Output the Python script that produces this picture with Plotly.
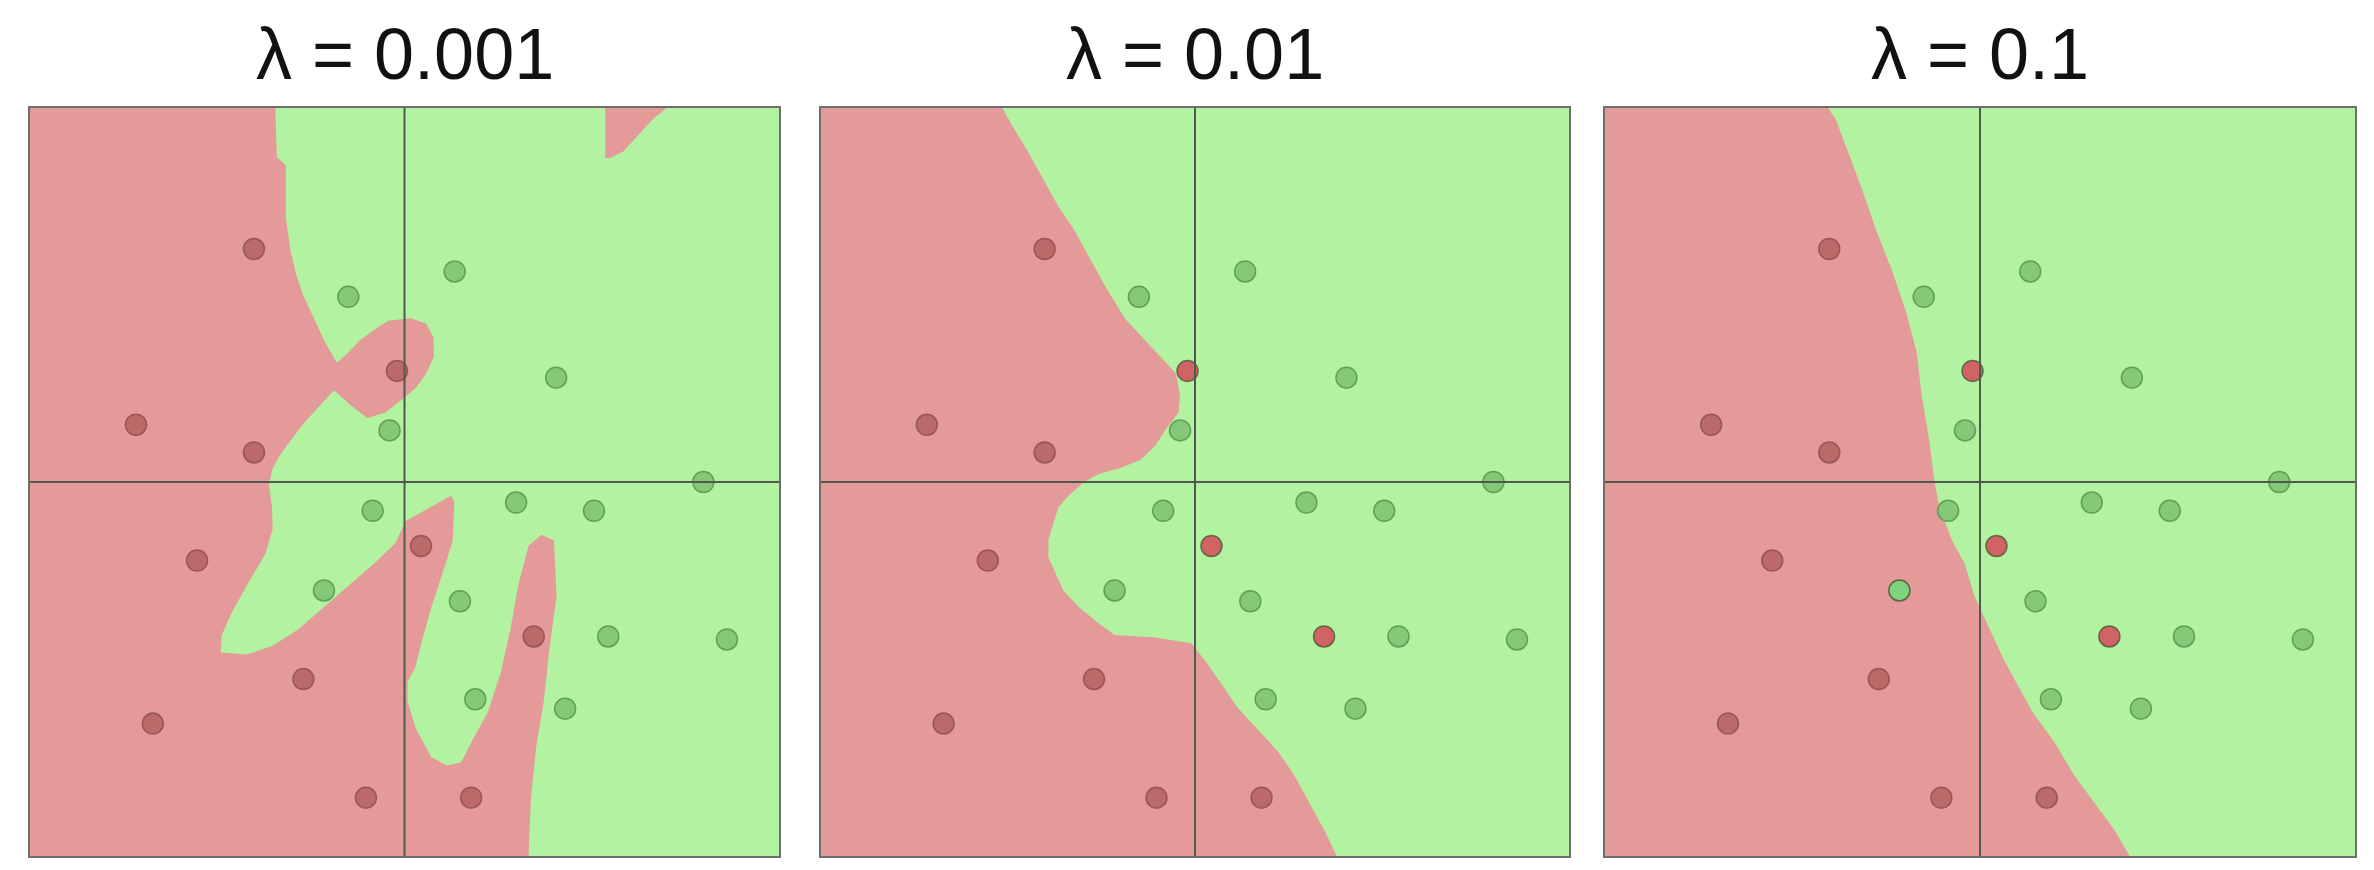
import plotly.graph_objects as go

# ---------------- data ----------------
titles = ["λ = 0.001", "λ = 0.01", "λ = 0.1"]

red_x = [-0.402, -0.717, -0.402, -0.020, -0.554, 0.044, -0.270, -0.672, -0.103, 0.178, 0.345]
red_y = [0.623, 0.153, 0.079, 0.297, -0.210, -0.171, -0.527, -0.646, -0.844, -0.844, -0.413]

green_x = [-0.150, 0.134, 0.405, -0.040, 0.798, -0.085, 0.298, 0.506, -0.215, 0.148, 0.544, 0.861, 0.189, 0.429]
green_y = [0.495, 0.563, 0.279, 0.138, 0.000, -0.077, -0.055, -0.077, -0.290, -0.319, -0.413, -0.421, -0.581, -0.606]

# red decision region outlines, panel 1 (lambda = 0.001)
p1_red_x = [-1.0, -0.345, -0.341, -0.317, -0.317, -0.304, -0.290, -0.270, -0.242, -0.215, -0.181,
            -0.154, -0.119, -0.078, -0.044, 0.017, 0.058, 0.078, 0.078, 0.058, 0.031, -0.003,
            -0.051, -0.099, -0.147, -0.188, -0.229, -0.270, -0.304, -0.331, -0.352, -0.362,
            -0.354, -0.352, -0.372, -0.420, -0.461, -0.488, -0.491, -0.420, -0.352, -0.283,
            -0.215, -0.147, -0.078, -0.024, 0.003, 0.031, 0.085, 0.124, 0.133, 0.129, 0.106,
            0.072, 0.047, 0.028, 0.008, 0.008, 0.031, 0.072, 0.113, 0.151, 0.181, 0.222, 0.256,
            0.283, 0.304, 0.331, 0.365, 0.399, 0.406, 0.386, 0.372, 0.352, 0.338, 0.331, -1.0]
p1_red_y = [1.0, 1.0, 0.869, 0.847, 0.706, 0.617, 0.557, 0.498, 0.438, 0.379, 0.319,
            0.342, 0.379, 0.409, 0.431, 0.438, 0.423, 0.386, 0.334, 0.290, 0.253, 0.223,
            0.186, 0.171, 0.208, 0.245, 0.201, 0.156, 0.111, 0.074, 0.037, -0.007,
            -0.067, -0.126, -0.193, -0.275, -0.349, -0.409, -0.456, -0.461, -0.438, -0.394,
            -0.334, -0.275, -0.215, -0.163, -0.104, -0.089, -0.059, -0.037, -0.052, -0.156, -0.230,
            -0.334, -0.423, -0.498, -0.535, -0.587, -0.661, -0.736, -0.758, -0.750, -0.691, -0.617, -0.513,
            -0.394, -0.275, -0.171, -0.141, -0.156, -0.305, -0.453, -0.587, -0.706, -0.840, -1.0, -1.0]
p1_patch_x = [0.536, 0.700, 0.666, 0.625, 0.584, 0.549, 0.536]
p1_patch_y = [1.0, 1.0, 0.973, 0.929, 0.884, 0.866, 0.866]

# panel 2 (lambda = 0.01)
p2_red_x = [-1.0, -0.515, -0.488, -0.447, -0.406, -0.365, -0.324, -0.283, -0.242, -0.188, -0.133,
            -0.092, -0.051, -0.040, -0.044, -0.078, -0.106, -0.147, -0.201, -0.256, -0.297,
            -0.338, -0.365, -0.379, -0.392, -0.392, -0.372, -0.352, -0.311, -0.256, -0.215,
            -0.106, -0.010, 0.031, 0.072, 0.113, 0.167, 0.222, 0.263, 0.304, 0.345, 0.379, -1.0]
p2_red_y = [1.0, 1.0, 0.951, 0.884, 0.810, 0.736, 0.676, 0.602, 0.527, 0.438, 0.379,
            0.334, 0.290, 0.230, 0.186, 0.141, 0.097, 0.059, 0.037, 0.022, 0.0,
            -0.037, -0.067, -0.111, -0.156, -0.201, -0.245, -0.290, -0.334, -0.379, -0.409,
            -0.416, -0.431, -0.483, -0.542, -0.602, -0.661, -0.721, -0.780, -0.854, -0.929, -1.0, -1.0]

# panel 3 (lambda = 0.1)
p3_red_x = [-1.0, -0.405, -0.385, -0.358, -0.318, -0.277, -0.236, -0.196, -0.169, -0.155, -0.135,
            -0.122, -0.108, -0.074, -0.041, -0.014, 0.020, 0.061, 0.101, 0.142, 0.196, 0.250,
            0.304, 0.358, 0.399, -1.0]
p3_red_y = [1.0, 1.0, 0.970, 0.896, 0.792, 0.673, 0.569, 0.451, 0.347, 0.228, 0.109,
            0.005, -0.069, -0.158, -0.218, -0.307, -0.381, -0.470, -0.544, -0.618, -0.692, -0.782,
            -0.856, -0.930, -1.0, -1.0]

# points that sit on the "wrong" side of each boundary (drawn in a brighter tone)
wrong_red = [[], [3, 5, 10], [3, 5, 10]]
wrong_green = [[], [], [8]]

# ---------------- style ----------------
RED_BG = "#e49a98"
GREEN_BG = "#b2f2a0"
RED_PT = "#b96a69"
RED_PT_WRONG = "#d06464"
GREEN_PT = "#84c878"
GREEN_PT_WRONG = "#7ed47e"
AXIS_COLOR = "#4f5a4f"

panel_x = [(22, 771), (813, 1561), (1597, 2347)]
W, H = 2374, 870
TOP, BOTTOM = 100, 848

regions = [
    [(p1_red_x, p1_red_y), (p1_patch_x, p1_patch_y)],
    [(p2_red_x, p2_red_y)],
    [(p3_red_x, p3_red_y)],
]

fig = go.Figure()
layout_axes = {}
annotations = []
shapes = []
for i in range(3):
    sfx = "" if i == 0 else str(i + 1)
    xa, ya = "x" + sfx, "y" + sfx
    for rx, ry in regions[i]:
        fig.add_trace(go.Scatter(x=rx, y=ry, xaxis=xa, yaxis=ya, mode="lines",
                                 fill="toself", fillcolor=RED_BG,
                                 line=dict(width=0, color=RED_BG), hoverinfo="skip",
                                 showlegend=False))
    rc = [RED_PT_WRONG if k in wrong_red[i] else RED_PT for k in range(len(red_x))]
    rl = ["rgba(70,80,50,0.75)" if k in wrong_red[i] else "rgba(140,75,75,0.8)" for k in range(len(red_x))]
    gc = [GREEN_PT_WRONG if k in wrong_green[i] else GREEN_PT for k in range(len(green_x))]
    gl = ["rgba(70,80,40,0.8)" if k in wrong_green[i] else "rgba(85,150,75,0.85)" for k in range(len(green_x))]
    fig.add_trace(go.Scatter(x=red_x, y=red_y, xaxis=xa, yaxis=ya, mode="markers",
                             marker=dict(size=21, color=rc, line=dict(width=1.5, color=rl)),
                             showlegend=False))
    fig.add_trace(go.Scatter(x=green_x, y=green_y, xaxis=xa, yaxis=ya, mode="markers",
                             marker=dict(size=21, color=gc, line=dict(width=1.5, color=gl)),
                             showlegend=False))
    x0, x1 = panel_x[i]
    axcommon = dict(showgrid=False, zeroline=False,
                    showticklabels=False, ticks="", showline=True, mirror=True,
                    linecolor="#6e6e6e", linewidth=2, range=[-1, 1], fixedrange=True,
                    layer="above traces")
    layout_axes["xaxis" + sfx] = dict(axcommon, domain=[x0 / W, x1 / W], anchor=ya)
    layout_axes["yaxis" + sfx] = dict(axcommon, domain=[(H - BOTTOM) / H, (H - TOP) / H], anchor=xa)
    # the two coordinate axes through the origin
    shapes.append(dict(type="line", xref=xa, yref=ya + " domain", x0=0, x1=0, y0=0, y1=1,
                       line=dict(color=AXIS_COLOR, width=2), layer="above"))
    shapes.append(dict(type="line", xref=xa + " domain", yref=ya, x0=0, x1=1, y0=0, y1=0,
                       line=dict(color=AXIS_COLOR, width=2), layer="above"))
    annotations.append(dict(text=titles[i], x=(x0 + x1) / 2 / W, y=(H - 46) / H,
                            xref="paper", yref="paper", xanchor="center", yanchor="middle",
                            showarrow=False,
                            font=dict(size=72, color="#111111", family="Liberation Sans, Arial")))

fig.update_layout(width=W, height=H, margin=dict(l=0, r=0, t=0, b=0),
                  paper_bgcolor="white", plot_bgcolor=GREEN_BG,
                  annotations=annotations, shapes=shapes, **layout_axes)

fig.write_html("out.html")
